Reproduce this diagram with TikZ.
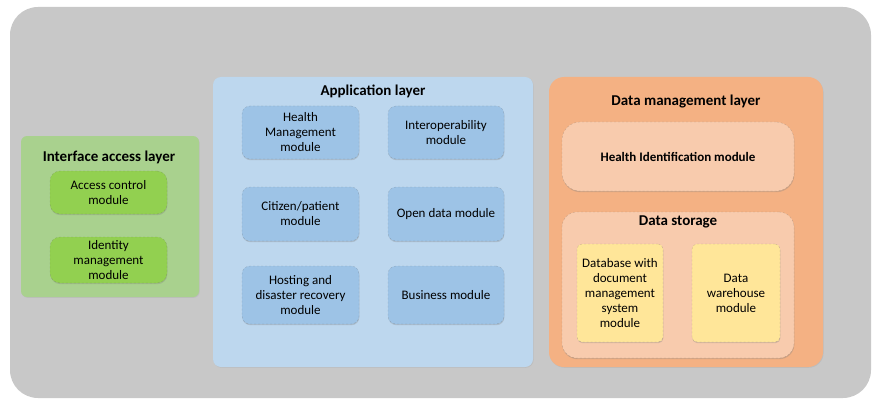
\documentclass[tikz,border=0pt]{standalone}
\usepackage{fontspec}
\setmainfont{Carlito}
\usetikzlibrary{shadows}
\definecolor{bggray}{RGB}{200,200,200}
\definecolor{greenlayer}{RGB}{169,209,142}
\definecolor{greenmod}{RGB}{146,208,80}
\definecolor{bluelayer}{RGB}{189,215,238}
\definecolor{bluemod}{RGB}{157,195,230}
\definecolor{orangelayer}{RGB}{244,177,131}
\definecolor{orangemod}{RGB}{248,203,173}
\definecolor{yellowmod}{RGB}{255,230,153}
\tikzset{
  layerbox/.style={draw=none, inner sep=0pt,
    drop shadow={shadow xshift=0.6pt, shadow yshift=-0.8pt, opacity=0.15}},
  modbox/.style={draw=black!70, draw opacity=0.3, dash pattern=on 2pt off 2pt,
    line width=0.3pt, align=center,
    inner sep=2pt, font=\fontsize{13}{15}\selectfont,
    drop shadow={shadow xshift=0.4pt, shadow yshift=-1.2pt, opacity=0.3}},
  layertitle/.style={font=\bfseries\fontsize{15}{17}\selectfont, inner sep=0pt},
}
\begin{document}
\begin{tikzpicture}[x=1pt,y=-1pt]
\useasboundingbox (0,0) rectangle (872,409);
% background panel
\node[fill=bggray, rounded corners=28pt, minimum width=861pt, minimum height=391pt, inner sep=0pt] (bg) at (440.5,202.5) {};

% interface access layer
\node[layerbox, fill=greenlayer, rounded corners=6pt, minimum width=178pt, minimum height=161pt] (iface) at (110,216.5) {};
\node[layertitle] (ifacetitle) at (109,157) {Interface access layer};
\node[modbox, fill=greenmod, rounded corners=10pt, minimum width=117pt, minimum height=43pt] (access) at (108.5,192.5) {Access control\\module};
\node[modbox, fill=greenmod, rounded corners=10pt, minimum width=117pt, minimum height=46pt] (identity) at (108.5,260) {Identity\\management\\module};

% application layer
\node[layerbox, fill=bluelayer, rounded corners=8pt, minimum width=320pt, minimum height=290pt] (app) at (373,222) {};
\node[layertitle] (apptitle) at (373,91) {Application layer};
\node[modbox, fill=bluemod, rounded corners=8pt, minimum width=117pt, minimum height=53pt] (health) at (300.5,132.5) {Health\\Management\\module};
\node[modbox, fill=bluemod, rounded corners=8pt, minimum width=116pt, minimum height=53pt] (interop) at (446,132.5) {Interoperability\\module};
\node[modbox, fill=bluemod, rounded corners=8pt, minimum width=117pt, minimum height=54pt] (citizen) at (300.5,214) {Citizen/patient\\module};
\node[modbox, fill=bluemod, rounded corners=8pt, minimum width=116pt, minimum height=54pt] (opendata) at (446,214) {Open data module};
\node[modbox, fill=bluemod, rounded corners=8pt, minimum width=117pt, minimum height=58pt] (hosting) at (300.5,295) {Hosting and\\disaster recovery\\module};
\node[modbox, fill=bluemod, rounded corners=8pt, minimum width=116pt, minimum height=58pt] (business) at (446,295) {Business module};

% data management layer
\node[layerbox, fill=orangelayer, rounded corners=15pt, minimum width=274pt, minimum height=290pt] (data) at (686,222) {};
\node[layertitle] (datatitle) at (686,102) {Data management layer};
\node[modbox, fill=orangemod, rounded corners=18pt, minimum width=232pt, minimum height=69pt, font=\bfseries\fontsize{13}{15}\selectfont] (healthid) at (678,156.5) {Health Identification module};
\node[modbox, fill=orangemod, rounded corners=15pt, minimum width=232pt, minimum height=146pt] (storage) at (678,285) {};
\node[layertitle] (storagetitle) at (678,222) {Data storage};
\node[modbox, fill=yellowmod, rounded corners=5pt, minimum width=86pt, minimum height=98pt] (database) at (620,293) {Database with\\document\\management\\system\\module};
\node[modbox, fill=yellowmod, rounded corners=5pt, minimum width=88pt, minimum height=98pt] (warehouse) at (736,293) {Data\\warehouse\\module};
\end{tikzpicture}
\end{document}
